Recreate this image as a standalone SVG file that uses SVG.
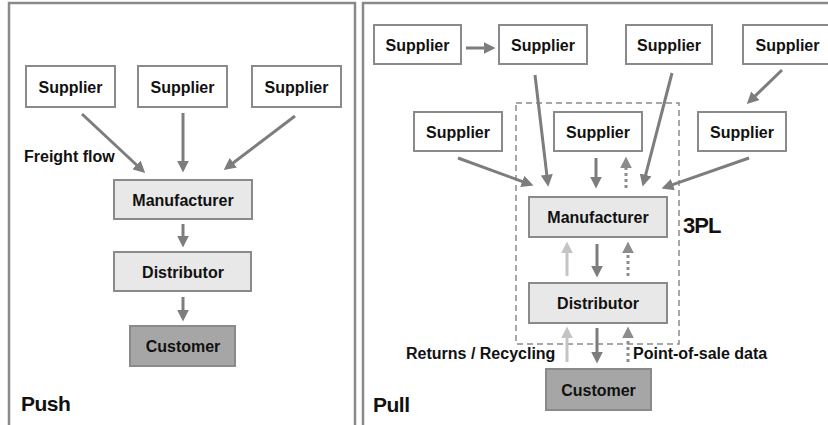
<svg xmlns="http://www.w3.org/2000/svg" width="828" height="425" viewBox="0 0 828 425">
  <style>
    .panel { fill: #ffffff; stroke: #8a8a8a; stroke-width: 2.5; }
    .box { stroke: #8a8a8a; stroke-width: 2; }
    .sup { fill: #ffffff; }
    .mid { fill: #e8e8e8; }
    .cust { fill: #a6a6a6; }
    .lbl { font-family: "Liberation Sans", Arial, sans-serif; font-weight: bold; font-size: 16px; fill: #111111; text-anchor: middle; }
    .free { font-family: "Liberation Sans", Arial, sans-serif; font-weight: bold; font-size: 16px; fill: #111111; }
    .big { font-family: "Liberation Sans", Arial, sans-serif; font-weight: bold; font-size: 21px; fill: #111111; letter-spacing: -0.5px; }
    .flow { fill: none; stroke: #7d7d7d; stroke-width: 3; }
    .ret { fill: none; stroke: #c4c4c4; stroke-width: 3; }
    .info { fill: none; stroke: #8c8c8c; stroke-width: 3; stroke-dasharray: 3 3; }
    .tpl { fill: none; stroke: #8a8a8a; stroke-width: 1.5; stroke-dasharray: 6 4; }
  </style>
  <defs>
    <marker id="headDark" markerUnits="userSpaceOnUse" markerWidth="12" markerHeight="12" viewBox="0 0 10 10" refX="2" refY="5" orient="auto">
      <path d="M0,0 L10,5 L0,10 z" fill="#7d7d7d"/>
    </marker>
    <marker id="headLight" markerUnits="userSpaceOnUse" markerWidth="12" markerHeight="12" viewBox="0 0 10 10" refX="2" refY="5" orient="auto">
      <path d="M0,0 L10,5 L0,10 z" fill="#c4c4c4"/>
    </marker>
    <marker id="headInfo" markerUnits="userSpaceOnUse" markerWidth="12" markerHeight="12" viewBox="0 0 10 10" refX="2" refY="5" orient="auto">
      <path d="M0,0 L10,5 L0,10 z" fill="#8c8c8c"/>
    </marker>
  </defs>

  <!-- panels -->
  <rect class="panel" x="9" y="3" width="346" height="430"/>
  <rect class="panel" x="363" y="3" width="470" height="430"/>

  <!-- 3PL boundary -->
  <rect class="tpl" x="516" y="103" width="163" height="241"/>

  <!-- Push side nodes -->
  <g id="push-supplier-1"><rect class="box sup" x="26" y="66" width="89" height="41"/><text class="lbl" x="70.5" y="92.5">Supplier</text></g>
  <g id="push-supplier-2"><rect class="box sup" x="138" y="66" width="89" height="41"/><text class="lbl" x="182.5" y="92.5">Supplier</text></g>
  <g id="push-supplier-3"><rect class="box sup" x="252" y="66" width="89" height="41"/><text class="lbl" x="296.5" y="92.5">Supplier</text></g>
  <g id="push-manufacturer"><rect class="box mid" x="114" y="180" width="138" height="39"/><text class="lbl" x="183" y="205.5">Manufacturer</text></g>
  <g id="push-distributor"><rect class="box mid" x="114" y="252" width="137" height="39"/><text class="lbl" x="183" y="277.5">Distributor</text></g>
  <g id="push-customer"><rect class="box cust" x="130" y="326" width="105" height="40"/><text class="lbl" x="183" y="352">Customer</text></g>

  <!-- Pull side nodes -->
  <g id="pull-supplier-1"><rect class="box sup" x="374" y="25" width="87" height="39"/><text class="lbl" x="417.5" y="50.5">Supplier</text></g>
  <g id="pull-supplier-2"><rect class="box sup" x="499" y="25" width="88" height="39"/><text class="lbl" x="543" y="50.5">Supplier</text></g>
  <g id="pull-supplier-3"><rect class="box sup" x="626" y="25" width="86" height="39"/><text class="lbl" x="669" y="50.5">Supplier</text></g>
  <g id="pull-supplier-4"><rect class="box sup" x="743" y="25" width="89" height="39"/><text class="lbl" x="787.5" y="50.5">Supplier</text></g>
  <g id="pull-supplier-5"><rect class="box sup" x="414" y="112" width="88" height="39"/><text class="lbl" x="458" y="137.5">Supplier</text></g>
  <g id="pull-supplier-6"><rect class="box sup" x="554" y="112" width="88" height="39"/><text class="lbl" x="598" y="137.5">Supplier</text></g>
  <g id="pull-supplier-7"><rect class="box sup" x="698" y="112" width="88" height="39"/><text class="lbl" x="742" y="137.5">Supplier</text></g>
  <g id="pull-manufacturer"><rect class="box mid" x="529" y="197" width="138" height="40"/><text class="lbl" x="598" y="223">Manufacturer</text></g>
  <g id="pull-distributor"><rect class="box mid" x="529" y="283" width="138" height="40"/><text class="lbl" x="598" y="309">Distributor</text></g>
  <g id="pull-customer"><rect class="box cust" x="546" y="369" width="105" height="41"/><text class="lbl" x="598.5" y="395.5">Customer</text></g>

  <!-- connectors -->
  <g id="connectors">
    <!-- push -->
    <line class="flow" x1="82" y1="114" x2="138.2" y2="166.5" marker-end="url(#headDark)"/>
    <line class="flow" x1="183" y1="113" x2="183" y2="163" marker-end="url(#headDark)"/>
    <line class="flow" x1="295" y1="116" x2="231.4" y2="164.2" marker-end="url(#headDark)"/>
    <line class="flow" x1="183" y1="224" x2="183" y2="238" marker-end="url(#headDark)"/>
    <line class="flow" x1="183" y1="297" x2="183" y2="312" marker-end="url(#headDark)"/>

    <!-- pull: suppliers -->
    <line class="flow" x1="466" y1="48" x2="486" y2="48" marker-end="url(#headDark)"/>
    <line class="flow" x1="535" y1="75" x2="547.1" y2="177.1" marker-end="url(#headDark)"/>
    <line class="flow" x1="672" y1="73" x2="645" y2="177.3" marker-end="url(#headDark)"/>
    <line class="flow" x1="782" y1="70" x2="753.7" y2="97.4" marker-end="url(#headDark)"/>
    <line class="flow" x1="458" y1="158" x2="524.5" y2="182.3" marker-end="url(#headDark)"/>
    <line class="flow" x1="749" y1="158" x2="670.6" y2="185.4" marker-end="url(#headDark)"/>
    <line class="flow" x1="596" y1="158" x2="596" y2="179" marker-end="url(#headDark)"/>
    <line class="info" x1="626" y1="188" x2="626" y2="166" marker-end="url(#headInfo)"/>

    <!-- pull: manufacturer / distributor -->
    <line class="ret" x1="567" y1="276" x2="567" y2="251" marker-end="url(#headLight)"/>
    <line class="flow" x1="597" y1="244" x2="597" y2="268" marker-end="url(#headDark)"/>
    <line class="info" x1="628" y1="276" x2="628" y2="251" marker-end="url(#headInfo)"/>

    <!-- pull: distributor / customer -->
    <line class="ret" x1="567" y1="362" x2="567" y2="336" marker-end="url(#headLight)"/>
    <line class="flow" x1="597" y1="328" x2="597" y2="354" marker-end="url(#headDark)"/>
    <line class="info" x1="628" y1="362" x2="628" y2="336" marker-end="url(#headInfo)"/>
  </g>

  <!-- labels -->
  <text class="free" x="24" y="162">Freight flow</text>
  <text class="big" x="21" y="411">Push</text>
  <text class="big" x="373" y="412">Pull</text>
  <text class="big" x="683" y="233" style="font-size:22px;letter-spacing:-1px">3PL</text>
  <text class="free" x="406" y="359">Returns / Recycling</text>
  <text class="free" x="633" y="359">Point-of-sale data</text>
</svg>
